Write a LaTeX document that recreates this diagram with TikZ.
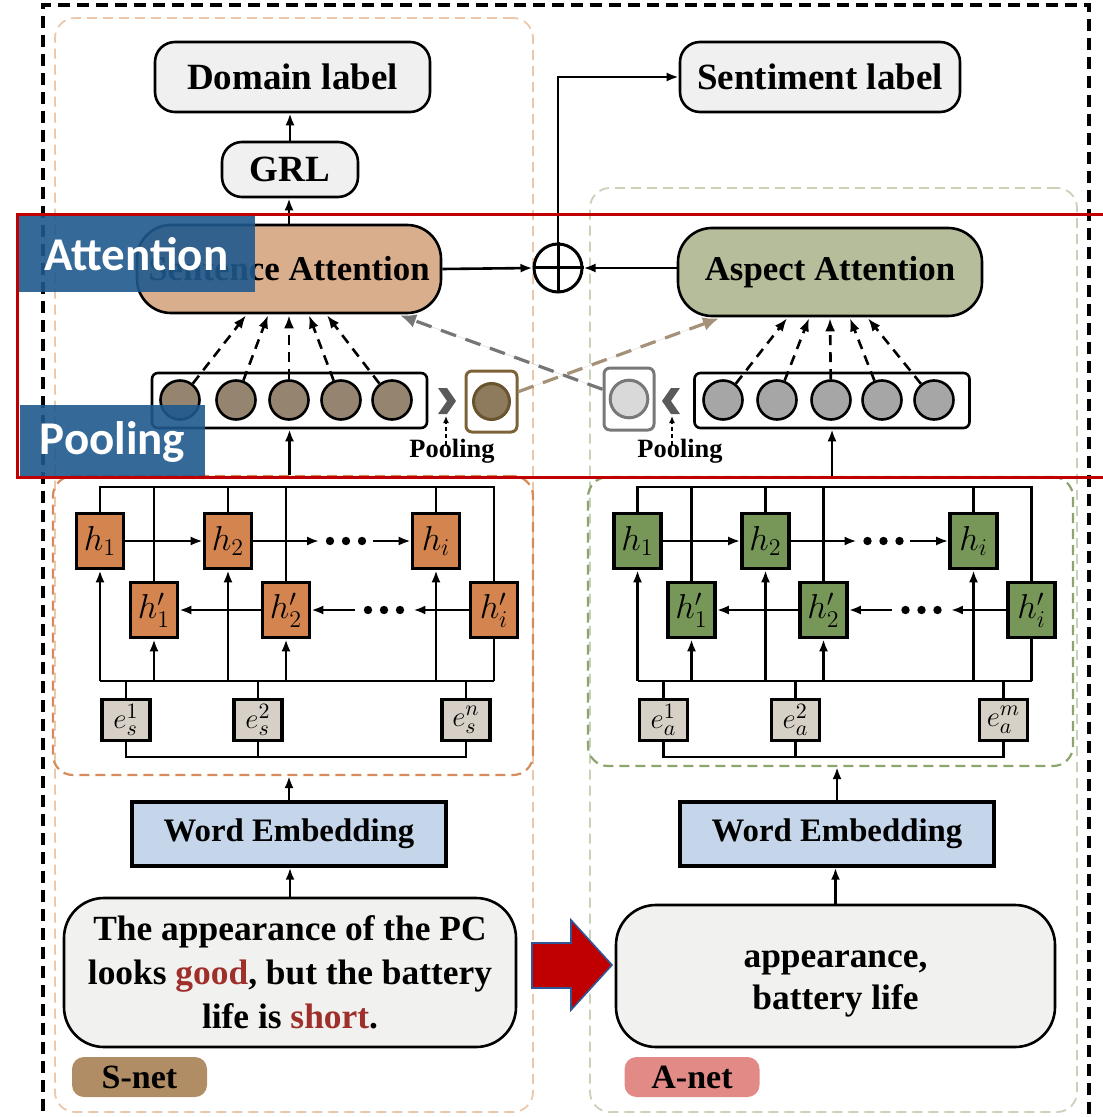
\documentclass[tikz,border=0pt]{standalone}
\usepackage{fontspec}
\setmainfont{Liberation Serif}
\newfontfamily\tagsans{Carlito}
\usetikzlibrary{arrows.meta,calc}

\definecolor{boxgray}{HTML}{F0F0F0}
\definecolor{textbox}{HTML}{F1F1EF}
\definecolor{horange}{HTML}{D3844F}
\definecolor{hgreen}{HTML}{769758}
\definecolor{efill}{HTML}{D6D0C6}
\definecolor{sattfill}{HTML}{D9AE8C}
\definecolor{aattfill}{HTML}{B5BD9A}
\definecolor{cbrown}{HTML}{958470}
\definecolor{cgray}{HTML}{A6A6A6}
\definecolor{poolbrown}{HTML}{7D6237}
\definecolor{poolbrownfill}{HTML}{8E7B5E}
\definecolor{poolgray}{HTML}{787878}
\definecolor{poolgrayfill}{HTML}{D9D9D9}
\definecolor{chevron}{HTML}{5A5A5A}
\definecolor{dgray}{HTML}{767676}
\definecolor{dbrown}{HTML}{A59178}
\definecolor{wefill}{HTML}{C5D6EA}
\definecolor{wred}{HTML}{9E2F2B}
\definecolor{bigred}{HTML}{C00000}
\definecolor{bigredline}{HTML}{2F5597}
\definecolor{snetc}{HTML}{B08D64}
\definecolor{anetc}{HTML}{E28A86}
\definecolor{olight}{HTML}{ECC8AA}
\definecolor{odark}{HTML}{D58C5A}
\definecolor{glight}{HTML}{C8D2B9}
\definecolor{gdark}{HTML}{8CA56E}
\definecolor{frame}{HTML}{C00000}
\definecolor{tagblue}{HTML}{1F598C}

\tikzset{
  conn/.style={line width=1.3pt},
  arr/.style={conn,-{Latex[length=6pt,width=4.5pt]}},
  darr/.style={line width=1.3pt,dash pattern=on 5pt off 3.5pt,-{Latex[length=6.5pt,width=5pt]}},
  bigdash/.style={line width=1.6pt,dash pattern=on 8pt off 5pt,-{Latex[length=8pt,width=7pt]}},
  sarr/.style={line width=0.8pt,dash pattern=on 2pt off 1.5pt,-{Latex[length=3.5pt,width=3pt]}},
  lbl/.style={draw,line width=1.3pt,rounded corners=10pt,fill=boxgray,inner sep=0,
    font=\fontsize{18.5}{20}\selectfont\bfseries},
  att/.style={draw,line width=1.3pt,rounded corners=17pt,minimum width=152pt,minimum height=44pt,
    inner sep=0,font=\fontsize{17.4}{18}\selectfont\bfseries},
  hbox/.style={draw,line width=1.8pt,minimum width=23.5pt,minimum height=27.5pt,inner sep=0,
    font=\fontsize{18}{18}\selectfont},
  ebox/.style={draw,line width=1.8pt,fill=efill,minimum width=24pt,minimum height=20.5pt,inner sep=0,
    font=\fontsize{15}{15}\selectfont},
  rowbox/.style={draw,line width=1.3pt,rounded corners=3pt,minimum width=137.5pt,minimum height=27.5pt,inner sep=0},
  cnode/.style={circle,draw,line width=1.3pt,minimum size=19.5pt,inner sep=0},
  poolbox/.style={draw,line width=1.5pt,rounded corners=3pt,minimum width=25.5pt,minimum height=30.5pt,inner sep=0},
  pcirc/.style={circle,draw,line width=1.5pt,minimum size=18pt,inner sep=0},
  pooltxt/.style={inner sep=0,font=\fontsize{13.2}{14}\selectfont\bfseries},
  webox/.style={draw,line width=1.7pt,fill=wefill,minimum width=157pt,minimum height=32pt,inner sep=0,
    font=\fontsize{16.4}{18}\selectfont\bfseries},
  txtbox/.style={draw,line width=1.3pt,fill=textbox,rounded corners=20pt,inner sep=0,align=center,
    font=\fontsize{17.7}{22}\selectfont\bfseries},
  nettag/.style={rounded corners=6pt,minimum width=67.5pt,minimum height=20pt,inner sep=0,
    font=\fontsize{17}{18}\selectfont\bfseries},
  region/.style={line width=0.9pt,dash pattern=on 5pt off 3pt,rounded corners=10pt,inner sep=0},
  bluetag/.style={fill=tagblue,fill opacity=0.9,text opacity=1,text=white,inner sep=0,
    font=\tagsans\fontsize{23.5}{24}\selectfont\bfseries},
}

% One BiLSTM encoder: #1 name prefix, #2 cell colour, #3 embedding subscript, #4 last index
\newcommand\lstmblock[4]{%
  \node[hbox,fill=#2] (#1h1) at (100,541) {$h_1$};
  \node[hbox,fill=#2] (#1h2) at (228,541) {$h_2$};
  \node[hbox,fill=#2] (#1hi) at (436,541) {$h_i$};
  \node[hbox,fill=#2] (#1g1) at (154,610) {$h^{\prime}_1$};
  \node[hbox,fill=#2] (#1g2) at (286,610) {$h^{\prime}_2$};
  \node[hbox,fill=#2] (#1gi) at (494,610) {$h^{\prime}_i$};
  \node[ebox] (#1e1) at (126,720) {$e_{#3}^{1}$};
  \node[ebox] (#1e2) at (258,720) {$e_{#3}^{2}$};
  \node[ebox] (#1en) at (466,720) {$e_{#3}^{#4}$};
  \coordinate (#1top) at (100,487);
  \coordinate (#1bus) at (100,681);
  \coordinate (#1low) at (100,757);
  % output bus above the cells
  \draw[conn] (#1h1.north) -- (#1h1.north |- #1top) -- (#1gi.north |- #1top) -- (#1gi.north);
  \foreach \c in {g1,h2,g2,hi} \draw[conn] (#1\c.north) -- (#1\c.north |- #1top);
  % input bus below the cells
  \draw[conn] (#1h1.south |- #1bus) -- (#1gi.south |- #1bus);
  \draw[conn] (#1gi.south) -- (#1gi.south |- #1bus);
  \foreach \c in {h1,g1,h2,g2,hi} \draw[arr] (#1\c.south |- #1bus) -- (#1\c.south);
  \foreach \c in {e1,e2,en} \draw[conn] (#1\c.north) -- (#1\c.north |- #1bus);
  \draw[conn] (#1e1.south) -- (#1e1.south |- #1low) -- (#1en.south |- #1low) -- (#1en.south);
  \draw[conn] (#1e2.south) -- (#1e2.south |- #1low);
  % forward chain
  \node[minimum width=26.5pt,minimum height=6pt,inner sep=0] (#1fd) at (346,541) {};
  \foreach \dx in {-16,0,16} \fill ($(#1fd)+(\dx,0)$) circle (2.1pt);
  \draw[arr] (#1h1) -- (#1h2);
  \draw[arr] (#1h2) -- (#1fd);
  \draw[arr] (#1fd) -- (#1hi);
  % backward chain
  \node[minimum width=29pt,minimum height=6pt,inner sep=0] (#1bd) at (384,610) {};
  \foreach \dx in {-16,0,16} \fill ($(#1bd)+(\dx,0)$) circle (2.1pt);
  \draw[arr] (#1gi) -- (#1bd);
  \draw[arr] (#1bd) -- (#1g2);
  \draw[arr] (#1g2) -- (#1g1);
}

\begin{document}
\begin{tikzpicture}[x=0.5pt,y=-0.5pt]
\useasboundingbox (0,0) rectangle (1102,1117);

% outer frame, open at the bottom
\draw[line width=2pt,dash pattern=on 6pt off 3.5pt] (43,1130) -- (43,5) -- (1089,5) -- (1089,1130);

% dashed regions of the two networks
\node[region,draw=olight,minimum width=239pt,minimum height=547pt] (snet) at (294,565) {};
\node[region,draw=glight,minimum width=243.5pt,minimum height=462pt] (anet) at (833.5,650) {};
\node[region,draw=odark,line width=1.1pt,minimum width=240pt,minimum height=149.5pt] (lstmL) at (293,625.5) {};
\node[region,draw=gdark,line width=1.1pt,minimum width=242.5pt,minimum height=144.5pt] (lstmR) at (830.5,621.5) {};

% output labels
\node[lbl,minimum width=137.5pt,minimum height=35pt] (dom) at (292.5,77) {Domain label};
\node[lbl,minimum width=140pt,minimum height=35pt] (sent) at (820,77) {Sentiment label};
\node[lbl,minimum width=68pt,minimum height=27.5pt] (grl) at (290,169.5) {GRL};

% attention layers and their fusion
\node[att,fill=sattfill] (satt) at (289,269) {Sentence Attention};
\node[att,fill=aattfill] (aatt) at (830,272) {Aspect Attention};
\node[circle,draw,line width=1.5pt,minimum size=24pt,inner sep=0] (plus) at (558,268) {};
\draw[line width=1.5pt] (plus.north) -- (plus.south) (plus.west) -- (plus.east);

\draw[arr] (grl.north) -- (grl.north |- dom.south);
\draw[arr] (satt.north) -- (satt.north |- grl.south);
\draw[arr] (satt.east) -- (plus.west);
\draw[arr] (aatt.west |- plus) -- (plus.east);
\draw[arr] (plus.north) |- (sent.west);

% hidden-state rows
\node[rowbox] (rowL) at (289.5,400.5) {};
\node[rowbox] (rowR) at (832,400.5) {};
\foreach \i/\x in {1/180,2/236,3/289,4/341,5/392}
  \node[cnode,fill=cbrown] (cL\i) at (\x,400) {};
\foreach \i/\x in {1/723,2/777,3/831,4/882,5/934}
  \node[cnode,fill=cgray] (cR\i) at (\x,400) {};
\foreach \i/\dx in {1/-43,2/-21,3/0,4/20,5/38} {
  \draw[darr] (cL\i) -- ($(satt.south)+(\dx,1)$);
  \draw[darr] (cR\i) -- ($(aatt.south)+(\dx,1)$);
}

% pooling of each row
\coordinate (chL) at (446,401);
\coordinate (chR) at (672,401);
\fill[chevron] ($(chL)+(-8,-13)$) -- ($(chL)+(1,-13)$) -- ($(chL)+(10,0)$) -- ($(chL)+(1,13)$)
  -- ($(chL)+(-8,13)$) -- ($(chL)+(1,0)$) -- cycle;
\fill[chevron] ($(chR)+(8,-13)$) -- ($(chR)+(-1,-13)$) -- ($(chR)+(-10,0)$) -- ($(chR)+(-1,13)$)
  -- ($(chR)+(8,13)$) -- ($(chR)+(-1,0)$) -- cycle;
\node[poolbox,draw=poolbrown] (poolL) at (491.5,401.5) {};
\node[pcirc,draw=poolbrown!85!black,fill=poolbrownfill] (poolLc) at (491.5,401.5) {};
\node[poolbox,draw=poolgray,minimum width=25pt,minimum height=31pt] (poolR) at (629,399) {};
\node[pcirc,draw=poolgray,fill=poolgrayfill,minimum size=18.8pt] (poolRc) at (629,399) {};
\node[pooltxt] (plL) at (452,451) {Pooling};
\node[pooltxt] (plR) at (680,451) {Pooling};
\draw[sarr] ($(chL |- plL.north)+(0,6)$) -- ($(chL)+(0,15)$);
\draw[sarr] ($(chR |- plR.north)+(0,6)$) -- ($(chR)+(0,15)$);

% cross-network guidance
\draw[bigdash,draw=dgray,fill=dgray] (poolR) -- ($(satt.south)+(111,1)$);
\draw[bigdash,draw=dbrown,fill=dbrown] (poolL) -- ($(aatt.south)+(-111,1)$);

% BiLSTM encoders
\lstmblock{L}{horange}{s}{n}
\begin{scope}[xshift=268.75pt]
  \lstmblock{R}{hgreen}{a}{m}
\end{scope}

\draw[arr] (rowL.south |- lstmL.north) -- (rowL.south);
\draw[arr] (rowR.south |- lstmR.north) -- (rowR.south);

% embeddings and inputs
\node[webox] (weL) at (289,834) {Word Embedding};
\node[webox] (weR) at (837,834) {Word Embedding};
\node[txtbox,minimum width=226pt,minimum height=74.5pt] (sboxL) at (290,972.5)
  {The appearance of the PC\\looks \textcolor{wred}{good}, but the battery\\life is \textcolor{wred}{short}.};
\node[txtbox,minimum width=219.5pt,minimum height=71pt] (sboxR) at (835.5,976) {};
\node[align=center,inner sep=0,font=\fontsize{17.7}{21}\selectfont\bfseries] (sboxRtxt)
  at ($(sboxR)+(0,8)$) {appearance,\\battery life};

\draw[arr] (weL.north) -- (weL.north |- lstmL.south);
\draw[arr] (weR.north) -- (weR.north |- lstmR.south);
\draw[arr] (sboxL.north) -- (sboxL.north |- weL.south);
\draw[arr] (sboxR.north) -- (sboxR.north |- weR.south);

% extraction arrow between the two inputs
\path[fill=bigred,draw=bigredline,line width=0.8pt]
  (532,943) -- (571,943) -- (571,920) -- (612,965) -- (571,1010) -- (571,988) -- (532,988) -- cycle;

\node[nettag,fill=snetc] (stag) at (139.5,1077) {S-net};
\node[nettag,fill=anetc] (atag) at (692,1077) {A-net};

% highlighted layers
\node[bluetag,minimum width=118.5pt,minimum height=38pt] (attTag) at (136.5,254) {Attention};
\node[bluetag,minimum width=92.5pt,minimum height=36.5pt] (poolTag) at (112.5,441.5) {Pooling};
\draw[draw=frame,line width=1.5pt] (17,215) rectangle (1115,477);
\end{tikzpicture}
\end{document}
